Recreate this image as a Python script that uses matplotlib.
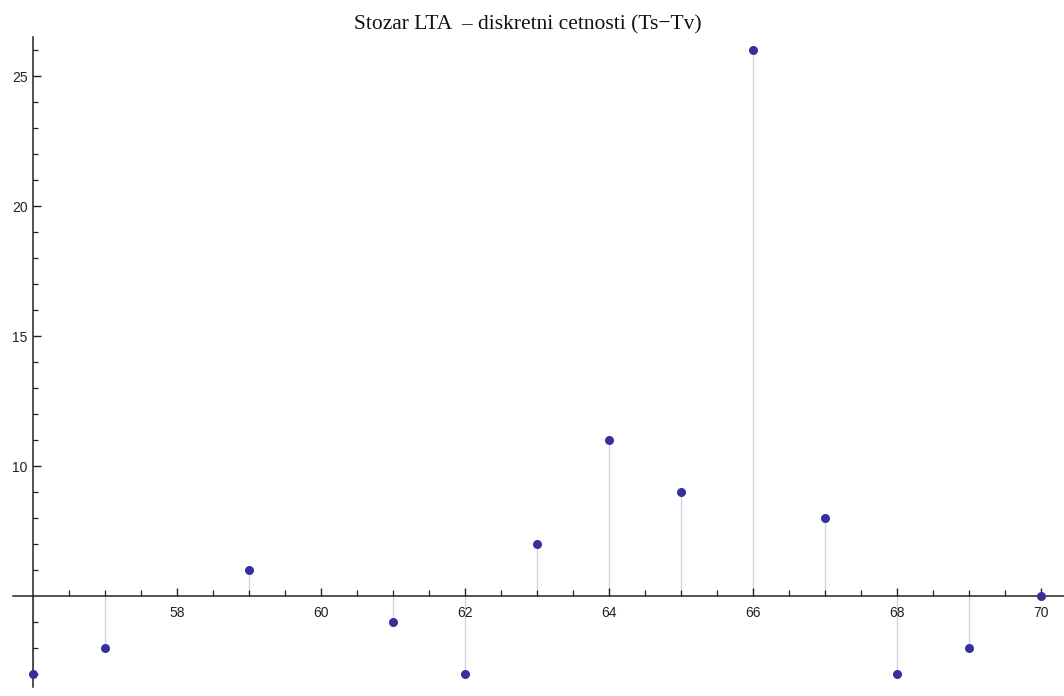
import matplotlib
matplotlib.use("Agg")
import matplotlib.pyplot as plt
import numpy as np

# Discrete frequencies (Ts - Tv)
diffs = [56, 57, 59, 61, 62, 63, 64, 65, 66, 67, 68, 69, 70]
counts = [2, 3, 6, 4, 2, 7, 11, 9, 26, 8, 2, 3, 5]
x_major = [58, 60, 62, 64, 66, 68, 70]
y_major = [10, 15, 20, 25]
title = "Stozar LTA  \u2013 diskretni cetnosti (Ts\u2212Tv)"

origin_x, origin_y = 56, 5

W, H = 1064, 696
fig = plt.figure(figsize=(W / 100, H / 100), dpi=100)
ax = fig.add_axes([0, 0, 1, 1])
ax.set_xlim(55.54, 70.32)
ax.set_ylim(5 - 100 / 26, 5 + 596 / 26)

dot = "#36309a"
stem = "#d4d4e8"
ax.vlines(diffs, origin_y, counts, colors=stem, linewidth=1.0, zorder=1)
ax.plot(diffs, counts, "o", color=dot, markersize=6.5, markeredgewidth=0, zorder=3)

for s in ["top", "right"]:
    ax.spines[s].set_visible(False)
ax.spines["left"].set_position(("data", origin_x))
ax.spines["bottom"].set_position(("data", origin_y))
ax.spines["left"].set_bounds(5 - 91 / 26, 5 + 559 / 26)
ax.spines["bottom"].set_bounds(55.72, 70.32)
for s in ["left", "bottom"]:
    ax.spines[s].set_linewidth(1.1)
    ax.spines[s].set_color("#222222")

ax.set_xticks(x_major)
ax.set_xticks(np.arange(56.5, 70.01, 0.5), minor=True)
ax.set_yticks(y_major)
ax.set_yticks([v for v in range(2, 27) if v not in y_major and v != 5], minor=True)

ax.tick_params(axis="x", which="major", direction="in", length=6, width=1,
               pad=7, labelsize=10, colors="#222222")
ax.tick_params(axis="x", which="minor", direction="in", length=4, width=0.9,
               colors="#222222")
ax.tick_params(axis="y", which="major", direction="in", length=6, width=1,
               pad=4, labelsize=10, colors="#222222")
ax.tick_params(axis="y", which="minor", direction="in", length=3.5, width=0.9,
               colors="#222222")
for lab in ax.get_xticklabels() + ax.get_yticklabels():
    lab.set_fontfamily("Liberation Sans")

fig.text(528 / W, 1 - 25 / H, title, ha="center", va="center",
         fontsize=15.5, family="Liberation Serif", color="#111111")

fig.savefig("out.png", dpi=100)
